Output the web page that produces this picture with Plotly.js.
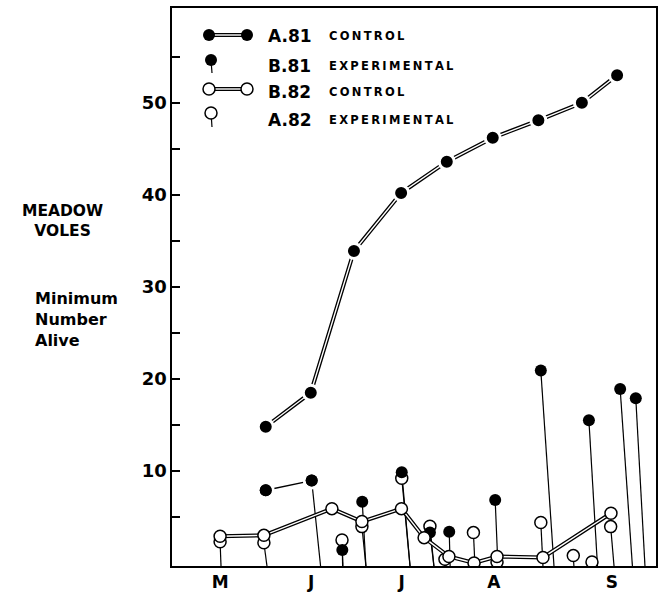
<!DOCTYPE html>
<html>
<head>
<meta charset="utf-8">
<script src="https://cdn.plot.ly/plotly-3.0.1.min.js"></script>
<style>html,body{margin:0;padding:0;background:#fff;}#chart{width:666px;height:593px;}</style>
</head>
<body>
<div id="chart"></div>
<script>
// ---- data (x = day of season, y = minimum number alive) ----
const monthLabels = ['M', 'J', 'J', 'A', 'S'];
const monthDays   = [15.7, 45.4, 75.0, 105.1, 143.6];

// A.81 control
const a81Days   = [30.6, 45.3, 59.4, 74.8, 89.7, 104.7, 119.6, 133.8, 145.3];
const a81Values = [14.8, 18.5, 33.9, 40.2, 43.6, 46.2, 48.1, 50.0, 53.0];

// B.81 experimental
const b81Days     = [30.6, 45.6, 55.6, 62.1, 75.0, 84.2, 90.5, 105.5, 120.4, 136.1, 146.3, 151.4];
const b81Values   = [7.9, 8.95, 1.4, 6.66, 9.86, 3.3, 3.4, 6.85, 20.9, 15.5, 18.9, 17.9];
const b81StemDays = [null, 48.5, 55.7, 63.3, 77.7, 85.5, 90.8, 106.4, 124.7, 138.9, 150.3, 154.4];

// B.82 control
const b82Days   = [15.7, 30.0, 52.2, 62.0, 74.9, 82.3, 90.4, 98.6, 106.1, 121.1, 143.3];
const b82Values = [2.9, 3.0, 5.9, 4.5, 5.9, 2.75, 0.7, 0.0, 0.7, 0.6, 5.4];

// A.82 experimental
const a82Days     = [15.7, 30.0, 55.5, 62.0, 75.0, 84.2, 89.1, 98.4, 106.1, 120.4, 131.0, 137.1, 143.2];
const a82Values   = [2.3, 2.2, 2.5, 3.95, 9.2, 4.0, 0.4, 3.3, 0.1, 4.4, 0.8, 0.1, 3.95];
const a82StemDays = [16.0, 31.0, 55.8, 63.3, 77.7, 85.5, 89.5, 98.9, 106.4, 121.1, 131.2, 137.1, 144.3];

const yTickVals = [5, 10, 15, 20, 25, 30, 35, 40, 45, 50, 55];
const yTickText = ['', '10', '', '20', '', '30', '', '40', '', '50', ''];

// ---- layout geometry ----
const W = 666, H = 593;
const L = 172, R = 656, T = 8, B = 566;
const X_RANGE = [0, 158];
const Y_RANGE = [-0.33, 60.3];
const BASE = Y_RANGE[0];
const FONT = 'DejaVu Sans';

function stems(xs, ys, bases) {
  const sx = [], sy = [];
  for (let i = 0; i < xs.length; i++) {
    if (bases[i] === null) continue;
    sx.push(xs[i], bases[i], null);
    sy.push(ys[i], BASE, null);
  }
  return {sx, sy};
}
const s81 = stems(b81Days, b81Values, b81StemDays);
const s82 = stems(a82Days, a82Values, a82StemDays);

const traces = [
  {x: s82.sx, y: s82.sy, mode: 'lines', line: {color: '#000', width: 1.2}, hoverinfo: 'skip'},
  {x: s81.sx, y: s81.sy, mode: 'lines', line: {color: '#000', width: 1.2}, hoverinfo: 'skip'},
  {x: b81Days.slice(0, 2), y: b81Values.slice(0, 2), mode: 'lines', line: {color: '#000', width: 1.3}},
  {x: b81Days.slice(0, 2), y: b81Values.slice(0, 2), mode: 'markers',
   marker: {size: 15, color: '#000', line: {color: '#fff', width: 3}}},
  {x: a82Days, y: a82Values, mode: 'markers',
   marker: {size: 12, color: '#fff', line: {color: '#000', width: 1.5}}},
  {x: b81Days, y: b81Values, mode: 'markers',
   marker: {size: 12, color: '#000', line: {width: 0}}},
  {x: b82Days, y: b82Values, mode: 'lines', line: {color: '#000', width: 4}},
  {x: b82Days, y: b82Values, mode: 'lines', line: {color: '#fff', width: 1.4}},
  {x: b82Days, y: b82Values, mode: 'markers',
   marker: {size: 12, color: '#fff', line: {color: '#000', width: 1.5}}},
  {x: a81Days, y: a81Values, mode: 'lines', line: {color: '#000', width: 4}},
  {x: a81Days, y: a81Values, mode: 'lines', line: {color: '#fff', width: 1.4}},
  {x: a81Days, y: a81Values, mode: 'markers',
   marker: {size: 15, color: '#000', line: {color: '#fff', width: 3}}}
];

// ---- hand-drawn legend (paper coordinates from pixel positions) ----
const PX = px => (px - L) / (R - L);
const PY = py => (B - py) / (B - T);
function circle(cx, cy, filled) {
  return {type: 'circle', xref: 'paper', yref: 'paper',
    x0: PX(cx - 6), x1: PX(cx + 6), y0: PY(cy + 6), y1: PY(cy - 6),
    fillcolor: filled ? '#000' : '#fff', line: {color: '#000', width: filled ? 0 : 1.5}};
}
function seg(x0, y0, x1, y1, w, c) {
  return {type: 'line', xref: 'paper', yref: 'paper',
    x0: PX(x0), x1: PX(x1), y0: PY(y0), y1: PY(y1), line: {color: c || '#000', width: w}};
}
const shapes = [
  seg(214, 35, 242, 35, 4), seg(214, 35, 242, 35, 1.4, '#fff'),
  circle(209, 35, true), circle(247, 35, true),
  seg(211, 60, 212, 73, 1.2), circle(211, 60, true),
  seg(214, 89, 242, 89, 4), seg(214, 89, 242, 89, 1.4, '#fff'),
  circle(209, 89, false), circle(247, 89, false),
  seg(211, 113, 212, 127, 1.2), circle(211, 113, false)
];

const spaced = s => s.split('').join('\u2009');
function txt(text, px, py, size, anchor, align) {
  return {text: text, xref: 'paper', yref: 'paper',
    x: PX(px), y: PY(py), xanchor: anchor || 'left', yanchor: 'middle', align: align || 'left',
    showarrow: false, font: {family: FONT, size: size, color: '#000', weight: 'bold'}};
}
const annotations = [
  txt('A.81', 266, 36, 17), txt(spaced('CONTROL'), 327, 36, 11.5),
  txt('B.81', 266, 66, 17), txt(spaced('EXPERIMENTAL'), 327, 66, 11.5),
  txt('B.82', 266, 92, 17), txt(spaced('CONTROL'), 327, 92, 11.5),
  txt('A.82', 266, 120, 17), txt(spaced('EXPERIMENTAL'), 327, 120, 11.5),
  txt('MEADOW<br>VOLES', 62, 221, 15.5, 'center', 'center'),
  txt('Minimum<br>Number<br>Alive', 33, 320, 16, 'left', 'left')
];

const layout = {
  width: W, height: H,
  margin: {l: L, r: W - R, t: T, b: H - B, pad: 0},
  paper_bgcolor: '#fff', plot_bgcolor: '#fff',
  showlegend: false,
  xaxis: {range: X_RANGE, showgrid: false, zeroline: false,
    showline: true, linecolor: '#000', linewidth: 1.6, mirror: true,
    ticks: '', tickvals: monthDays, ticktext: monthLabels,
    tickfont: {family: FONT, size: 17, color: '#000', weight: 'bold'}},
  yaxis: {range: Y_RANGE, showgrid: false, zeroline: false,
    showline: true, linecolor: '#000', linewidth: 1.6, mirror: true,
    ticks: 'inside', ticklen: 8, tickwidth: 1.6, tickcolor: '#000',
    tickvals: yTickVals, ticktext: yTickText,
    tickfont: {family: FONT, size: 18, color: '#000', weight: 'bold'}},
  shapes: shapes,
  annotations: annotations
};

Plotly.newPlot('chart', traces, layout, {displayModeBar: false, staticPlot: true});
</script>
</body>
</html>
